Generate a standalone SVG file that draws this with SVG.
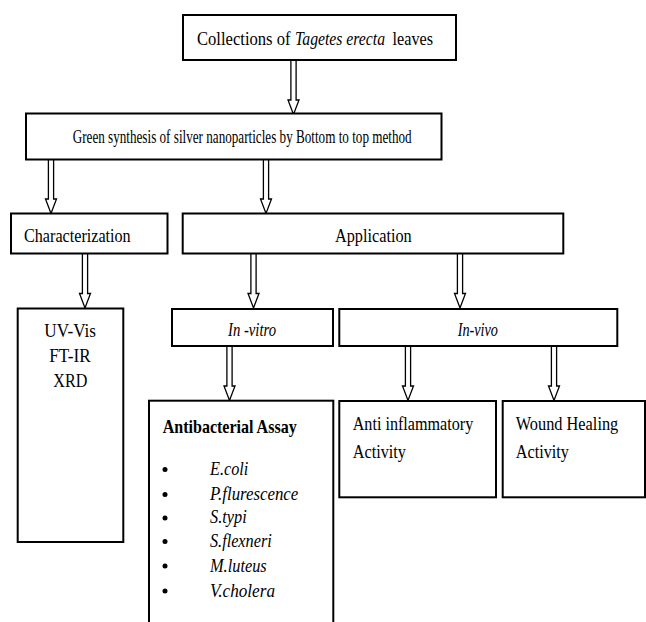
<svg xmlns="http://www.w3.org/2000/svg" width="646" height="622" viewBox="0 0 646 622">
<style>
.box{fill:#fff;stroke:#000;stroke-width:2}
.t{font-family:'Liberation Serif','Times New Roman',serif;font-size:19px;fill:#000}
.i{font-style:italic}
.b{font-weight:bold}
.arr{fill:#fff;stroke:#000;stroke-width:1.3}
</style>
<defs>
<path id="arrow" class="arr" d="M-2.6,0 V40 H-5.5 L0,54.5 L5.5,40 H2.6 V0"/>
</defs>
<rect width="646" height="622" fill="#fff"/>
<g id="connectors">
<use href="#arrow" x="293.5" y="60"/>
<use href="#arrow" x="51" y="159"/>
<use href="#arrow" x="266" y="159"/>
<use href="#arrow" x="85" y="253.5"/>
<use href="#arrow" x="253.5" y="253.5"/>
<use href="#arrow" x="460" y="253.5"/>
<use href="#arrow" x="229.5" y="346"/>
<use href="#arrow" x="408" y="346"/>
<use href="#arrow" x="554" y="346"/>
</g>
<g font-family="Liberation Serif, Times New Roman, serif">
<g id="collection">
<rect class="box" x="183" y="15" width="273" height="45"/>
<text class="t" x="197" y="45" textLength="93.5" lengthAdjust="spacingAndGlyphs">Collections of</text>
<text class="t i" x="295" y="45" textLength="90" lengthAdjust="spacingAndGlyphs">Tagetes erecta</text>
<text class="t" x="392.5" y="45" textLength="40.5" lengthAdjust="spacingAndGlyphs">leaves</text>
</g>
<g id="synthesis">
<rect class="box" x="26" y="113.5" width="415.5" height="46"/>
<text class="t" x="72.7" y="143" textLength="339" lengthAdjust="spacingAndGlyphs">Green synthesis of silver nanoparticles by Bottom to top method</text>
</g>
<g id="characterization">
<rect class="box" x="11" y="213.5" width="156.5" height="40"/>
<text class="t" x="24" y="241.5" textLength="106.7" lengthAdjust="spacingAndGlyphs">Characterization</text>
</g>
<g id="application">
<rect class="box" x="182.7" y="213.5" width="380.6" height="40"/>
<text class="t" x="335" y="241.5" textLength="76.7" lengthAdjust="spacingAndGlyphs">Application</text>
</g>
<g id="techniques">
<rect class="box" x="17.7" y="308.5" width="105.6" height="233.5"/>
<text class="t" x="44.3" y="336.7" textLength="51.7" lengthAdjust="spacingAndGlyphs">UV-Vis</text>
<text class="t" x="49.3" y="361.7" textLength="41.3" lengthAdjust="spacingAndGlyphs">FT-IR</text>
<text class="t" x="53.3" y="386.7" textLength="34" lengthAdjust="spacingAndGlyphs">XRD</text>
</g>
<g id="invitro">
<rect class="box" x="172" y="309" width="161" height="37"/>
<text class="t i" x="228" y="336" textLength="48" lengthAdjust="spacingAndGlyphs">In -vitro</text>
</g>
<g id="invivo">
<rect class="box" x="339.3" y="309" width="278" height="37"/>
<text class="t i" x="457.7" y="336" textLength="40.3" lengthAdjust="spacingAndGlyphs">In-vivo</text>
</g>
<g id="antibacterial">
<rect class="box" x="149" y="400.7" width="184.3" height="240"/>
<text class="t b" x="162.7" y="433.3" textLength="134" lengthAdjust="spacingAndGlyphs">Antibacterial Assay</text>
<g fill="#000">
<circle cx="165" cy="469.5" r="2.5"/>
<circle cx="165" cy="494.5" r="2.5"/>
<circle cx="165" cy="518" r="2.5"/>
<circle cx="165" cy="541.5" r="2.5"/>
<circle cx="165" cy="566" r="2.5"/>
<circle cx="165" cy="591" r="2.5"/>
</g>
<text class="t i" x="210" y="475" textLength="38.3" lengthAdjust="spacingAndGlyphs">E.coli</text>
<text class="t i" x="210" y="500" textLength="88.3" lengthAdjust="spacingAndGlyphs">P.flurescence</text>
<text class="t i" x="210" y="523.3" textLength="36.7" lengthAdjust="spacingAndGlyphs">S.typi</text>
<text class="t i" x="210" y="546.7" textLength="61.7" lengthAdjust="spacingAndGlyphs">S.flexneri</text>
<text class="t i" x="210" y="571.7" textLength="56.7" lengthAdjust="spacingAndGlyphs">M.luteus</text>
<text class="t i" x="210" y="596.7" textLength="65" lengthAdjust="spacingAndGlyphs">V.cholera</text>
</g>
<g id="antiinflammatory">
<rect class="box" x="339.3" y="401" width="156.7" height="96.3"/>
<text class="t" x="352.7" y="430" textLength="120.6" lengthAdjust="spacingAndGlyphs">Anti inflammatory</text>
<text class="t" x="352.7" y="458.3" textLength="53.3" lengthAdjust="spacingAndGlyphs">Activity</text>
</g>
<g id="woundhealing">
<rect class="box" x="502.7" y="401" width="142.3" height="96.3"/>
<text class="t" x="515.7" y="430" textLength="102.6" lengthAdjust="spacingAndGlyphs">Wound Healing</text>
<text class="t" x="515.7" y="458.3" textLength="53.3" lengthAdjust="spacingAndGlyphs">Activity</text>
</g>
</g>
</svg>
